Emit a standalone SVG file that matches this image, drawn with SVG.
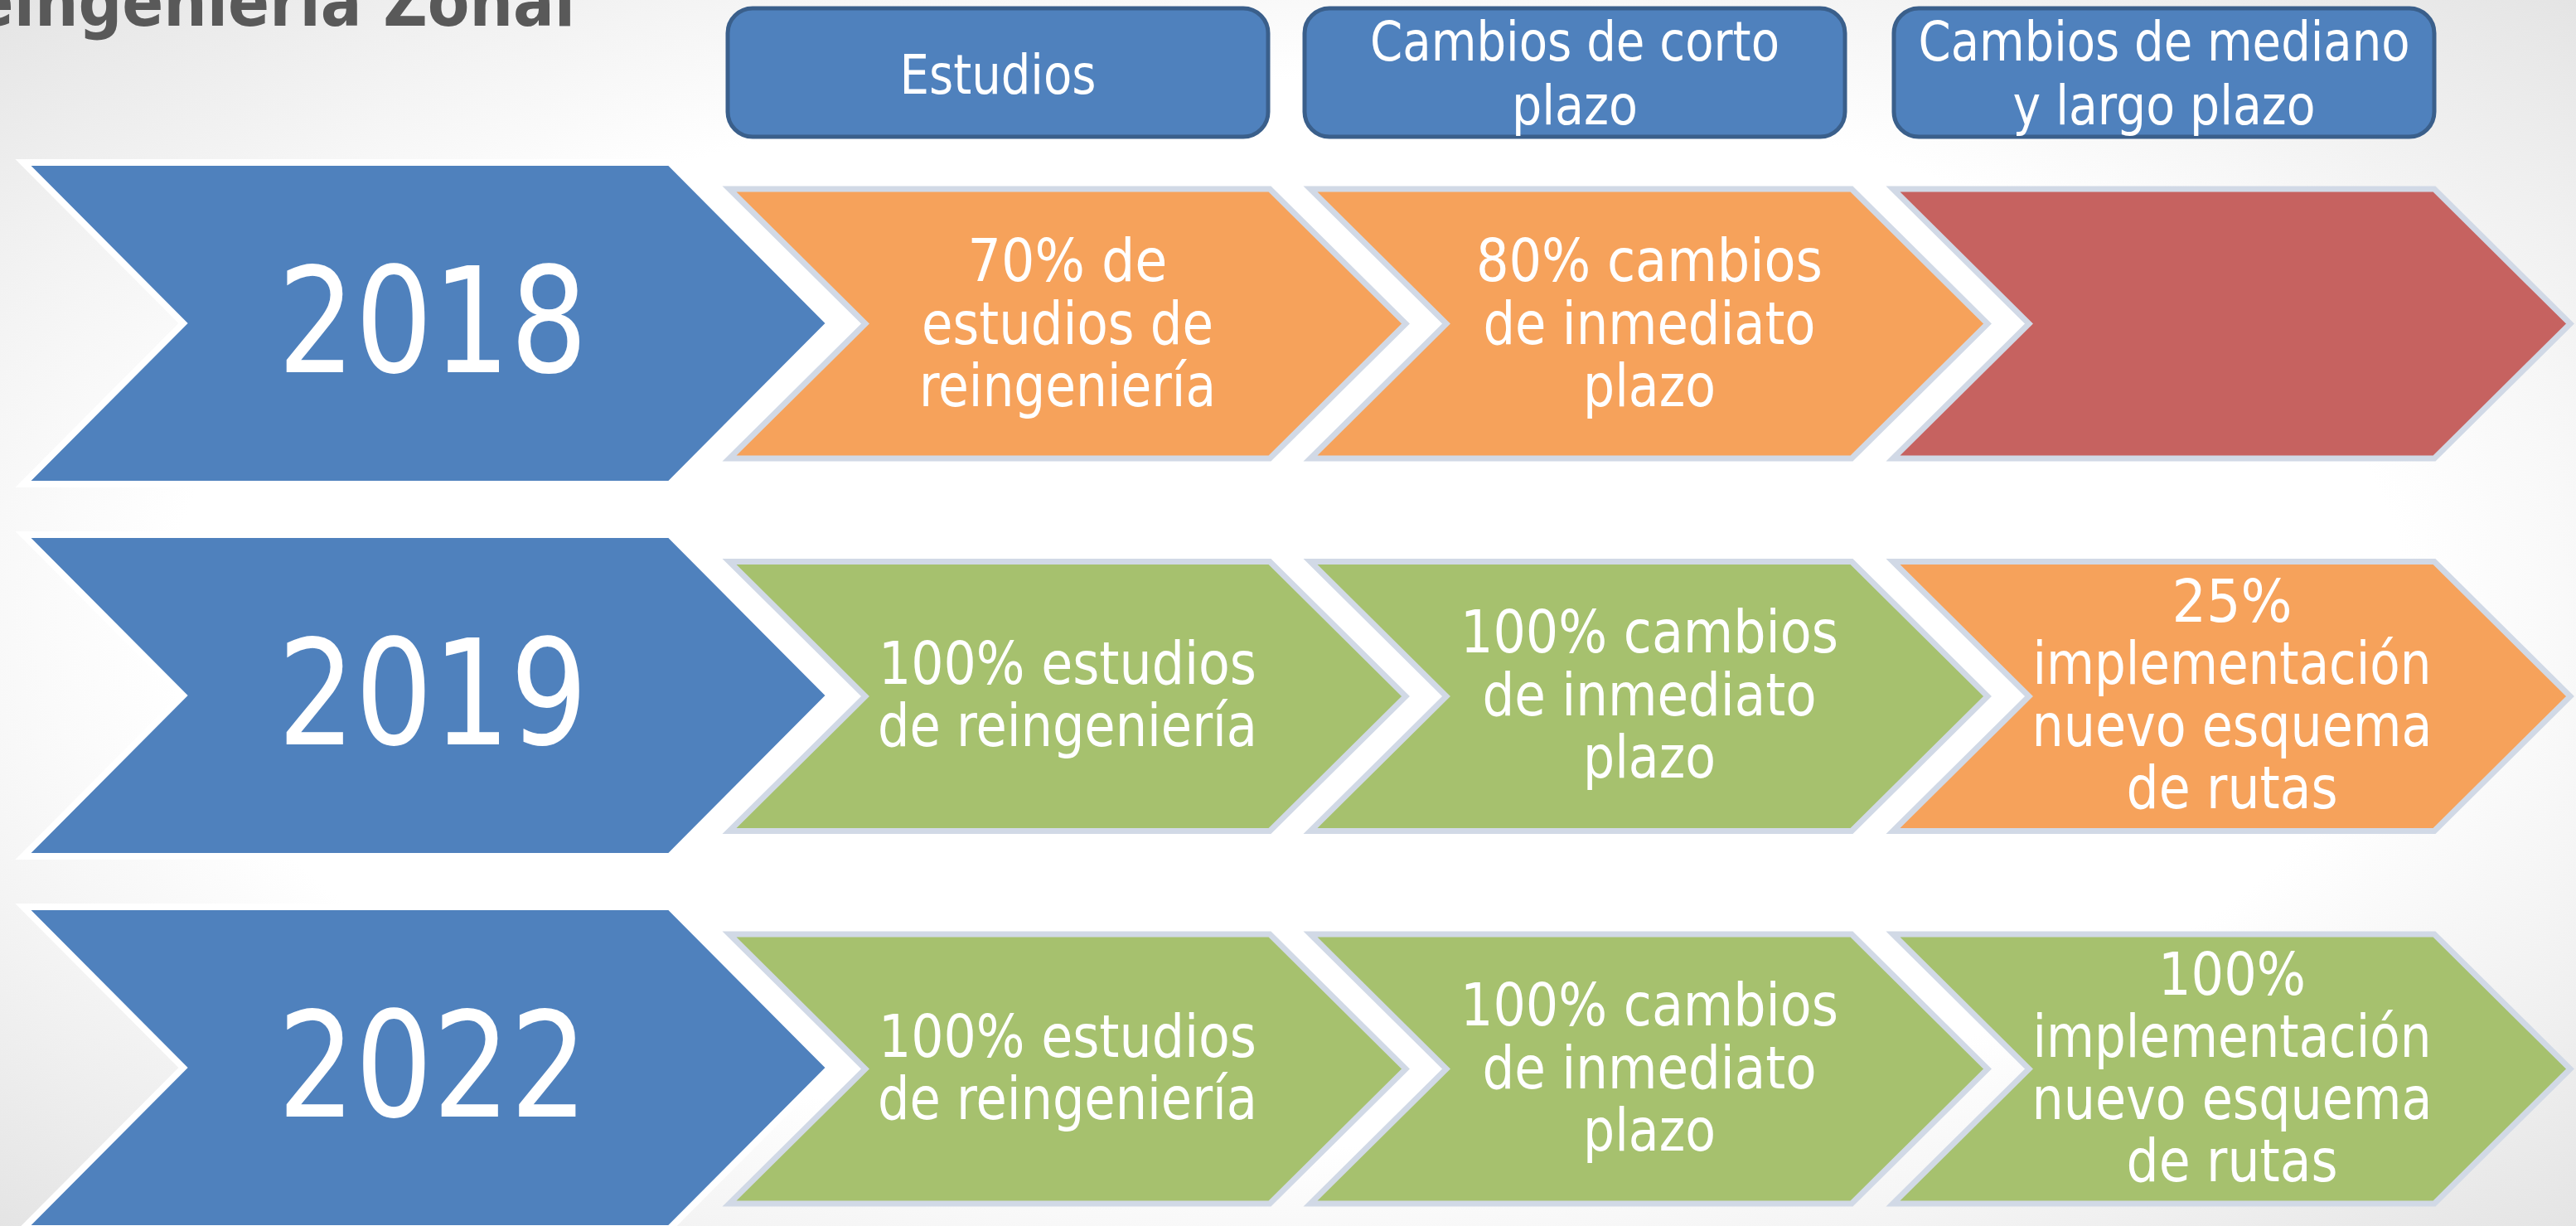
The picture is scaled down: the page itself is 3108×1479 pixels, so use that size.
<svg xmlns="http://www.w3.org/2000/svg" width="3108" height="1479" viewBox="0 0 3108 1479">
<defs>
<radialGradient id="bg" cx="0.5" cy="0.5" r="0.75">
<stop offset="0" stop-color="#FFFFFF"/>
<stop offset="0.58" stop-color="#FFFFFF"/>
<stop offset="1" stop-color="#E0E0E0"/>
</radialGradient>
<style>
.hdr{fill:#4F81BD;stroke:#3A5F8B;stroke-width:5}
.year{fill:#4F81BD;stroke:#FFFFFF;stroke-width:8;stroke-linejoin:miter}
.step{stroke:#D1D9E6;stroke-width:7;stroke-linejoin:miter}
.org{fill:#F6A25B}
.grn{fill:#A6C16E}
.red{fill:#C66260}
text{font-family:'DejaVu Sans Condensed','DejaVu Sans',sans-serif;font-stretch:condensed;fill:#FFFFFF;text-anchor:middle}
.ht{font-size:66px}
.yt{font-size:177px}
.bt{font-size:71px}
.title{font-size:82px;font-weight:bold;fill:#595959;text-anchor:end}
</style>
</defs>
<rect x="0" y="0" width="3108" height="1479" fill="url(#bg)"/>

<text class="title" x="694" y="31">eingeniería Zonal</text>

<g id="hdr-estudios">
<rect class="hdr" x="878" y="10" width="652" height="155" rx="30"/>
<text class="ht" x="1204" y="113" textLength="237" lengthAdjust="spacingAndGlyphs">Estudios</text>
</g>
<g id="hdr-corto">
<rect class="hdr" x="1574" y="10" width="652" height="155" rx="30"/>
<text class="ht" x="1900" y="73" textLength="494" lengthAdjust="spacingAndGlyphs">Cambios de corto</text>
<text class="ht" x="1900" y="150" textLength="152" lengthAdjust="spacingAndGlyphs">plazo</text>
</g>
<g id="hdr-mediano">
<rect class="hdr" x="2285" y="10" width="652" height="155" rx="30"/>
<text class="ht" x="2611" y="73" textLength="593" lengthAdjust="spacingAndGlyphs">Cambios de mediano</text>
<text class="ht" x="2611" y="150" textLength="365" lengthAdjust="spacingAndGlyphs">y largo plazo</text>
</g>

<!-- Row 2018 -->
<g id="y2018">
<polygon class="year" points="28,196 808,196 1001,390 808,584 28,584 221,390"/>
<text class="yt" x="522" y="449" textLength="374" lengthAdjust="spacingAndGlyphs">2018</text>
</g>
<g id="r1c1">
<polygon class="step org" points="880,228 1532,228 1696,390.5 1532,553 880,553 1044,390.5"/>
<text class="bt" x="1288" y="339" textLength="241" lengthAdjust="spacingAndGlyphs">70% de</text>
<text class="bt" x="1288" y="415" textLength="352" lengthAdjust="spacingAndGlyphs">estudios de</text>
<text class="bt" x="1288" y="490" textLength="358" lengthAdjust="spacingAndGlyphs">reingeniería</text>
</g>
<g id="r1c2">
<polygon class="step org" points="1581,228 2234,228 2398,390.5 2234,553 1581,553 1745,390.5"/>
<text class="bt" x="1990" y="339" textLength="418" lengthAdjust="spacingAndGlyphs">80% cambios</text>
<text class="bt" x="1990" y="415" textLength="401" lengthAdjust="spacingAndGlyphs">de inmediato</text>
<text class="bt" x="1990" y="490" textLength="160" lengthAdjust="spacingAndGlyphs">plazo</text>
</g>
<g id="r1c3">
<polygon class="step red" points="2284,228 2937,228 3101,390.5 2937,553 2284,553 2448,390.5"/>
</g>

<!-- Row 2019 -->
<g id="y2019">
<polygon class="year" points="28,645 808,645 1001,839 808,1033 28,1033 221,839"/>
<text class="yt" x="522" y="898" textLength="374" lengthAdjust="spacingAndGlyphs">2019</text>
</g>
<g id="r2c1">
<polygon class="step grn" points="880,677.5 1532,677.5 1696,840 1532,1002.5 880,1002.5 1044,840"/>
<text class="bt" x="1288" y="825" textLength="456" lengthAdjust="spacingAndGlyphs">100% estudios</text>
<text class="bt" x="1288" y="900" textLength="458" lengthAdjust="spacingAndGlyphs">de reingeniería</text>
</g>
<g id="r2c2">
<polygon class="step grn" points="1581,677.5 2234,677.5 2398,840 2234,1002.5 1581,1002.5 1745,840"/>
<text class="bt" x="1990" y="787" textLength="456" lengthAdjust="spacingAndGlyphs">100% cambios</text>
<text class="bt" x="1990" y="863" textLength="403" lengthAdjust="spacingAndGlyphs">de inmediato</text>
<text class="bt" x="1990" y="938" textLength="160" lengthAdjust="spacingAndGlyphs">plazo</text>
</g>
<g id="r2c3">
<polygon class="step org" points="2284,677.5 2937,677.5 3101,840 2937,1002.5 2284,1002.5 2448,840"/>
<text class="bt" x="2693" y="750" textLength="145" lengthAdjust="spacingAndGlyphs">25%</text>
<text class="bt" x="2693" y="825" textLength="481" lengthAdjust="spacingAndGlyphs">implementación</text>
<text class="bt" x="2693" y="900" textLength="483" lengthAdjust="spacingAndGlyphs">nuevo esquema</text>
<text class="bt" x="2693" y="975" textLength="255" lengthAdjust="spacingAndGlyphs">de rutas</text>
</g>

<!-- Row 2022 -->
<g id="y2022">
<polygon class="year" points="28,1094 808,1094 1001,1288 808,1482 28,1482 221,1288"/>
<text class="yt" x="522" y="1347" textLength="374" lengthAdjust="spacingAndGlyphs">2022</text>
</g>
<g id="r3c1">
<polygon class="step grn" points="880,1127 1532,1127 1696,1289.5 1532,1452 880,1452 1044,1289.5"/>
<text class="bt" x="1288" y="1274.5" textLength="456" lengthAdjust="spacingAndGlyphs">100% estudios</text>
<text class="bt" x="1288" y="1349.5" textLength="458" lengthAdjust="spacingAndGlyphs">de reingeniería</text>
</g>
<g id="r3c2">
<polygon class="step grn" points="1581,1127 2234,1127 2398,1289.5 2234,1452 1581,1452 1745,1289.5"/>
<text class="bt" x="1990" y="1236.5" textLength="456" lengthAdjust="spacingAndGlyphs">100% cambios</text>
<text class="bt" x="1990" y="1312.5" textLength="403" lengthAdjust="spacingAndGlyphs">de inmediato</text>
<text class="bt" x="1990" y="1387.5" textLength="160" lengthAdjust="spacingAndGlyphs">plazo</text>
</g>
<g id="r3c3">
<polygon class="step grn" points="2284,1127 2937,1127 3101,1289.5 2937,1452 2284,1452 2448,1289.5"/>
<text class="bt" x="2693" y="1199.5" textLength="178" lengthAdjust="spacingAndGlyphs">100%</text>
<text class="bt" x="2693" y="1274.5" textLength="481" lengthAdjust="spacingAndGlyphs">implementación</text>
<text class="bt" x="2693" y="1349.5" textLength="483" lengthAdjust="spacingAndGlyphs">nuevo esquema</text>
<text class="bt" x="2693" y="1424.5" textLength="255" lengthAdjust="spacingAndGlyphs">de rutas</text>
</g>

<g id="connectors"/>
</svg>
